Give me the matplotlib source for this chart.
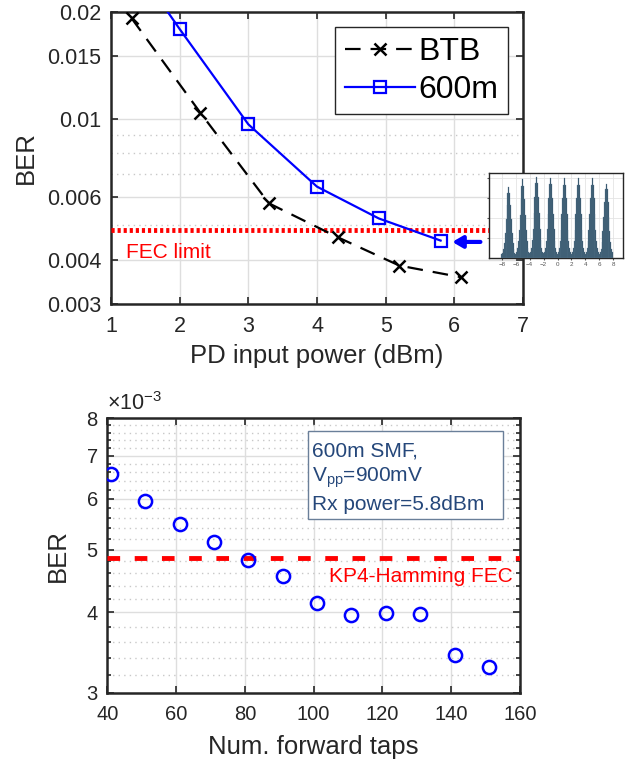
import numpy as np
import matplotlib
matplotlib.use('Agg')
import matplotlib.pyplot as plt
from matplotlib.patches import Rectangle
from matplotlib.ticker import FixedLocator, NullFormatter, NullLocator

plt.rcParams['font.family'] = ['Liberation Sans', 'DejaVu Sans']
plt.rcParams['mathtext.fontset'] = 'custom'
plt.rcParams['mathtext.rm'] = 'Liberation Sans'
plt.rcParams['mathtext.it'] = 'Liberation Sans:italic'

# --- dados: BER vs potencia
p_btb = [1.3, 2.3, 3.3, 4.3, 5.2, 6.1]
ber_btb = [0.0192, 0.0104, 0.00577, 0.00463, 0.00385, 0.00357]
p_600 = [1.0, 2.0, 3.0, 4.0, 4.9, 5.8]
ber_600 = [0.034, 0.0179, 0.00964, 0.00643, 0.00523, 0.00453]
fec_limit = 4.85e-3

# --- dados: BER vs numero de taps (x1e-3)
taps = [41, 51, 61, 71, 81, 91, 101, 111, 121, 131, 141, 151]
ber_taps = [6.55, 5.95, 5.48, 5.14, 4.82, 4.56, 4.13, 3.96, 3.99, 3.98, 3.43, 3.29]
kp4_fec = 4.85

# --- histograma do inset (PAM8)
levels = [-7, -5, -3, -1, 1, 3, 5, 7]
peak_h = [0.84, 0.93, 0.96, 0.95, 0.94, 0.94, 0.94, 0.88]
prof_off = [-1.0, -0.875, -0.75, -0.625, -0.5, -0.375, -0.25, -0.125, 0.0,
            0.125, 0.25, 0.375, 0.5, 0.625, 0.75, 0.875]
prof_rel = [0.06, 0.08, 0.13, 0.22, 0.36, 0.55, 0.75, 0.92, 1.0,
            0.92, 0.75, 0.55, 0.36, 0.22, 0.13, 0.08]

txt = '#262626'
grid_c = '#dedede'

fig = plt.figure(figsize=(6.32, 7.62), dpi=100)

# ---------------- grafico de cima
ax1 = fig.add_axes([111/632, 1-304/762, 412/632, 292/762])
ax1.set_yscale('log')
ax1.plot(p_btb, ber_btb, color='k', ls=(0, (7, 4.5)), lw=1.6, marker='x',
         ms=9, mew=1.8, label='BTB', zorder=4)
ax1.plot(p_600, ber_600, color='#0000ff', lw=1.6, marker='s', ms=8,
         mfc='none', mew=1.6, label='600m', zorder=4)
ax1.axhline(fec_limit, color='#ff0000', ls=(0, (0.65, 0.6)), lw=3.5, zorder=3)
ax1.text(1.22, 0.0042, 'FEC limit', color='#ff0000', fontsize=15, va='center')
ax1.annotate('', xy=(5.93, 0.00449), xytext=(6.42, 0.00449),
             arrowprops=dict(arrowstyle='-|>,head_length=0.6,head_width=0.35',
                             color='#0000ff', lw=3), zorder=5)
ax1.set_xlim(1, 7)
ax1.set_ylim(0.003, 0.02)
ax1.yaxis.set_major_locator(FixedLocator([0.003, 0.004, 0.006, 0.01, 0.015, 0.02]))
ax1.set_yticklabels(['0.003', '0.004', '0.006', '0.01', '0.015', '0.02'])
ax1.yaxis.set_minor_locator(FixedLocator([0.005, 0.007, 0.008, 0.009]))
ax1.yaxis.set_minor_formatter(NullFormatter())
ax1.set_xticks(range(1, 8))
ax1.grid(True, which='major', color=grid_c, lw=1)
ax1.grid(True, which='minor', axis='y', color='#c8c8c8', ls=(0, (1, 3)), lw=1)
ax1.tick_params(which='minor', length=0)
ax1.tick_params(labelsize=15.5)
ax1.set_xlabel('PD input power (dBm)', fontsize=18.5, color=txt, labelpad=5)
ax1.set_ylabel('BER', fontsize=18.5, color=txt, labelpad=7)
leg = ax1.legend(loc='upper right', bbox_to_anchor=(0.963, 0.948), fontsize=23,
                 fancybox=False, edgecolor='#262626', framealpha=1,
                 handlelength=2.2, handletextpad=0.1, borderpad=0.3,
                 labelspacing=0.25, borderaxespad=0)
leg.get_frame().set_linewidth(1)

# ---------------- inset (histograma)
axi = fig.add_axes([489.3/632, 1-258.3/762, 133.4/632, 85/762])
for lv, h in zip(levels, peak_h):
    axi.bar([lv + o for o in prof_off], [h*r for r in prof_rel], width=0.125,
            color='#2f4d63', edgecolor='#5f7f95', lw=0.2, zorder=3)
axi.set_xlim(-9.8, 9.35)
axi.set_ylim(0, 1)
axi.set_xticks(range(-8, 9, 2))
axi.set_yticks([0.235, 0.47, 0.706, 0.94])
axi.set_yticklabels([])
axi.tick_params(labelsize=4.5, length=1.5, colors='#555555', pad=1)
axi.grid(True, color='#e4e4e4', lw=0.6)
for s in axi.spines.values():
    s.set_color('#262626')
    s.set_linewidth(1)
axi.set_zorder(10)

# ---------------- grafico de baixo
ax2 = fig.add_axes([107.3/632, 1-692.7/762, 412.7/632, 274.4/762])
ax2.set_yscale('log')
ax2.plot(taps, ber_taps, ls='none', marker='o', ms=9.5, mfc='none',
         mec='#0000ff', mew=1.8, zorder=4)
ax2.axhline(kp4_fec, color='#ff0000', ls=(0, (2.6, 3.0)), lw=3.5, zorder=3)
ax2.text(158, 4.55, 'KP4-Hamming FEC', color='#ff0000', fontsize=15,
         ha='right', va='center')
ax2.add_patch(Rectangle((0.487, 0.633), 0.4725, 0.322, transform=ax2.transAxes,
                        fc='white', ec='#6a7f99', lw=1, zorder=5))
ax2.text(0.495, 0.915, '600m SMF,\nV$_{\\mathrm{pp}}$=900mV\nRx power=5.8dBm',
         transform=ax2.transAxes, color='#25477a', fontsize=15, va='top',
         ha='left', linespacing=1.32, zorder=6)
ax2.set_xlim(40, 160)
ax2.set_ylim(3, 8)
ax2.set_xticks(range(40, 161, 20))
ax2.yaxis.set_major_locator(FixedLocator([3, 4, 5, 6, 7, 8]))
ax2.set_yticklabels(['3', '4', '5', '6', '7', '8'])
minors = [m/10 for m in range(32, 80, 2) if m % 10 != 0]
ax2.yaxis.set_minor_locator(FixedLocator(minors))
ax2.yaxis.set_minor_formatter(NullFormatter())
ax2.xaxis.set_minor_locator(NullLocator())
ax2.grid(True, which='major', color=grid_c, lw=1)
ax2.grid(True, which='minor', axis='y', color='#c8c8c8', ls=(0, (1, 3)), lw=1)
ax2.tick_params(which='minor', length=3, width=1.2)
ax2.tick_params(labelsize=14.5)
ax2.set_xlabel('Num. forward taps', fontsize=18.5, color=txt, labelpad=8)
ax2.set_ylabel('BER', fontsize=18.5, color=txt, labelpad=12)
ax2.text(0.0, 1.012, '$\\times10^{-3}$', transform=ax2.transAxes,
         fontsize=15.5, color=txt, ha='left', va='bottom')

for ax in (ax1, ax2):
    ax.tick_params(which='both', direction='in', top=True, right=True,
                   colors=txt, width=1.2)
    ax.tick_params(which='major', length=5)
    ax.tick_params(axis='x', which='major', pad=9)
    ax.tick_params(axis='y', which='major', pad=6.8)
    for s in ax.spines.values():
        s.set_color(txt)
        s.set_linewidth(1.8)
    ax.set_axisbelow(True)

fig.savefig('out.png', dpi=100)
